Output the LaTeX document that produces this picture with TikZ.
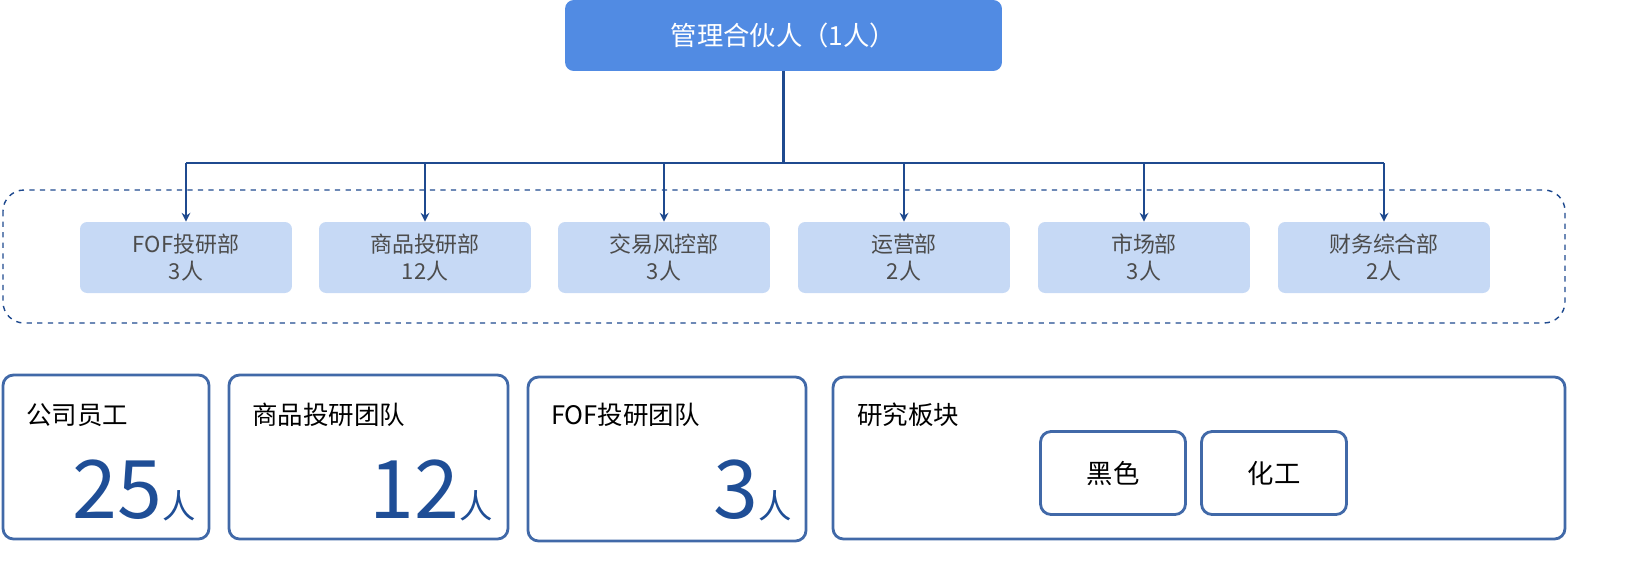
\documentclass[tikz,border=0pt]{standalone}
\usepackage{fontspec}
\setmainfont{Noto Sans CJK SC}
\usetikzlibrary{positioning, calc, arrows.meta}
\definecolor{topblue}{HTML}{518BE3}
\definecolor{deptblue}{HTML}{C6D9F5}
\definecolor{lineblue}{HTML}{1F4A8F}
\definecolor{boxblue}{HTML}{4169A8}
\definecolor{numblue}{HTML}{1F4E96}
\tikzset{
	x=0.02cm, y=-0.02cm,
	dept/.style={
		fill=deptblue,
		rounded corners=4pt,
		minimum width=4.24cm,
		minimum height=1.42cm,
		align=center,
		text=black!70,
		font=\fontsize{12.5}{15}\selectfont
	},
	statbox/.style={
		draw=boxblue,
		line width=1.6pt,
		rounded corners=6pt
	},
	statlabel/.style={
		anchor=west,
		font=\fontsize{14.5}{17}\selectfont
	},
	statnum/.style={
		anchor=base east,
		text=numblue,
		inner sep=0pt
	},
	link/.style={lineblue, line width=1.2pt}
}
\newcommand{\bignum}[1]{{\fontsize{46}{50}\selectfont #1}{\fontsize{19}{22}\selectfont 人}}

\begin{document}
\begin{tikzpicture}
	% top node
	\node[fill=topblue, rounded corners=5pt, minimum width=8.74cm, minimum height=1.42cm,
		text=white, font=\fontsize{15}{18}\selectfont] (partner) at (783.5,35.5) {管理合伙人（1人）};
	% department frame
	\draw[lineblue, dashed, line width=0.8pt, rounded corners=12pt] (3,190) rectangle (1565,323);
	% departments
	\node[dept] (fof)   at (186,257.5)  {FOF投研部\\3人};
	\node[dept] (goods) at (425,257.5)  {商品投研部\\12人};
	\node[dept] (trade) at (664,257.5)  {交易风控部\\3人};
	\node[dept] (ops)   at (904,257.5)  {运营部\\2人};
	\node[dept] (mkt)   at (1144,257.5) {市场部\\3人};
	\node[dept] (fin)   at (1384,257.5) {财务综合部\\2人};
	% connections
	\coordinate (hub) at (783.5,163);
	\draw[link] (partner.south) -- (hub);
	\draw[link] (fof.north |- hub) -- (fin.north |- hub);
	\begin{scope}[link, -{Stealth[length=5pt,width=5pt]}]
	\foreach \d in {fof, goods, trade, ops, mkt, fin} {
		\draw (\d.north |- hub) -- (\d.north);
	}
	\end{scope}
	% statistics
	\draw[statbox] (3,375) rectangle (209,539);
	\node[statlabel] (stafflbl) at (20,415) {公司员工};
	\node[statnum] (staffnum) at (196,518) {\bignum{25}};
	\draw[statbox] (229,375) rectangle (508,539);
	\node[statlabel] (goodslbl) at (246,415) {商品投研团队};
	\node[statnum] (goodsnum) at (493,518) {\bignum{12}};
	\draw[statbox] (528,377) rectangle (806,541);
	\node[statlabel] (foflbl) at (545,415) {FOF投研团队};
	\node[statnum] (fofnum) at (792,518) {\bignum{3}};
	\draw[statbox] (833,377) rectangle (1565,539);
	\node[statlabel] (reslbl) at (851,415) {研究板块};
	\node[statbox, minimum width=2.9cm, minimum height=1.66cm, font=\fontsize{15}{18}\selectfont] (black) at (1113,473) {黑色};
	\node[statbox, minimum width=2.9cm, minimum height=1.66cm, font=\fontsize{15}{18}\selectfont] (chem) at (1274,473) {化工};
	\pgfresetboundingbox
	\useasboundingbox (0,0) rectangle (1641,569);
\end{tikzpicture}
\end{document}
